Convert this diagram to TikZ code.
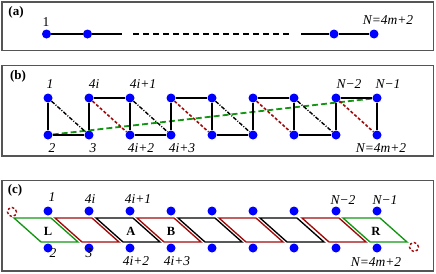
\documentclass[tikz,border=0pt]{standalone}
\usepackage{fontspec}
\setmainfont{Liberation Serif}
\definecolor{pred}{RGB}{160,10,10}
\definecolor{pgreen}{RGB}{20,150,20}
\definecolor{pblk}{RGB}{0,0,0}
\definecolor{pframe}{RGB}{85,85,85}
\begin{document}
\begin{tikzpicture}[x=1pt,y=-1pt,
  dot/.style={circle,fill=blue,inner sep=0pt,minimum size=9pt},
  edge/.style={line width=1.7pt,black},
  frm/.style={draw=pframe,line width=1.2pt},
  plab/.style={font=\fontsize{13}{14}\selectfont\bfseries,inner sep=0pt,anchor=base},
  lab/.style={font=\fontsize{13.5}{14}\selectfont\itshape,inner sep=0pt,anchor=base},
  ulab/.style={font=\fontsize{13.5}{14}\selectfont,inner sep=0pt,anchor=base},
  blab/.style={font=\fontsize{12.5}{14}\selectfont\bfseries,inner sep=0pt},
  rdash/.style={pred,line width=1.6pt,dash pattern=on 3pt off 2pt},
  kdash/.style={black,line width=1.4pt,dash pattern=on 4pt off 1.5pt on 1pt off 1.5pt},
  gdash/.style={pgreen,line width=1.8pt,dash pattern=on 6pt off 3pt},
  pgram/.style={line width=1.35pt},
  ring/.style={circle,draw=pred,dash pattern=on 2.5pt off 2pt,line width=1.4pt,inner sep=0pt,minimum size=9pt}]
\useasboundingbox (0,0) rectangle (436,273);
% frames
\draw[frm] (2,2) rectangle (433.5,50.5);
\draw[frm] (2,65.5) rectangle (433.5,156);
\draw[frm] (2,180.5) rectangle (433.5,271);
\node[plab] (pa) at (16,15.5) {(a)};
\node[plab] (pb) at (18,79.5) {(b)};
\node[plab] (pc) at (15,193.5) {(c)};
% ---------- (a)
\node[dot] (a1) at (46.5,34) {};
\node[dot] (a2) at (87.5,34) {};
\node[dot] (a3) at (334,34) {};
\node[dot] (a4) at (374,34) {};
\coordinate (ae1) at (122,34);
\coordinate (ad1) at (133,34);
\coordinate (ad2) at (290,34);
\coordinate (ae2) at (301,34);
\draw[edge] (a1) -- (a2);
\draw[edge] (a2) -- (ae1);
\draw[black,line width=1.7pt,dash pattern=on 6pt off 4pt] (ad1) -- (ad2);
\draw[edge] (ae2) -- (a3);
\draw[edge] (a3) -- (a4);
\node[ulab] (la1) at (46,26.5) {1};
\node[lab] (laN) at (388,24) {N=4m+2};
% ---------- (b)
\foreach \x [count=\k from 0] in {48,89,130,171,212,253,294,336,377} {
  \node[dot] (bt\k) at (\x,98) {};
  \node[dot] (bb\k) at (\x,135) {};
}
\draw[gdash] (bb0) -- (bt8);
\foreach \k in {0,...,8} \draw[edge] (bt\k) -- (bb\k);
\foreach \k/\n in {0/1,2/3,4/5,6/7} \draw[edge] (bb\k) -- (bb\n);
\foreach \k/\n in {1/2,3/4,5/6,7/8} \draw[edge] (bt\k) -- (bt\n);
\foreach \k/\n in {0/1,2/3,4/5,6/7} \draw[kdash] (bt\k) -- (bb\n);
\foreach \k/\n in {1/2,3/4,5/6,7/8} \draw[rdash] (bt\k) -- (bb\n);
\node[lab] (lb1) at (50,88.5) {1};
\node[lab] (lb2) at (94,88.5) {4i};
\node[lab] (lb3) at (143,88.5) {4i+1};
\node[lab] (lb4) at (349,88.5) {N−2};
\node[lab] (lb5) at (388,88.5) {N−1};
\node[lab] (lb6) at (52,152.5) {2};
\node[lab] (lb7) at (93,152.5) {3};
\node[lab] (lb8) at (141,152.5) {4i+2};
\node[lab] (lb9) at (182,152.5) {4i+3};
\node[lab] (lb10) at (381,152.5) {N=4m+2};
% ---------- (c)
\foreach \x/\c [count=\k from 0] in {48/pgreen,89/pred,130/pblk,171/pred,212/pblk,253/pred,294/pblk,336/pred,377/pgreen} {
  \draw[pgram,\c] (\x-34,218) -- (\x+3,218) -- (\x+30,242) -- (\x-7,242) -- cycle;
  \node[dot] (ct\k) at (\x,211) {};
  \node[dot] (cb\k) at (\x,248) {};
}
\node[blab] (cL) at (48,231) {L};
\node[blab] (cA) at (131,231) {A};
\node[blab] (cB) at (171,231) {B};
\node[blab] (cR) at (376,231) {R};
\node[ring] (rl) at (12,212) {};
\node[ring] (rr) at (414,247) {};
\node[lab] (lc1) at (52,201.5) {1};
\node[lab] (lc2) at (90,203) {4i};
\node[lab] (lc3) at (138,203) {4i+1};
\node[lab] (lc4) at (343,204.5) {N−2};
\node[lab] (lc5) at (385,204.5) {N−1};
\node[lab] (lc6) at (53,257.5) {2};
\node[lab] (lc7) at (89,257.5) {3};
\node[lab] (lc8) at (136,265) {4i+2};
\node[lab] (lc9) at (177,265) {4i+3};
\node[lab] (lc10) at (376,266.5) {N=4m+2};
\end{tikzpicture}
\end{document}
